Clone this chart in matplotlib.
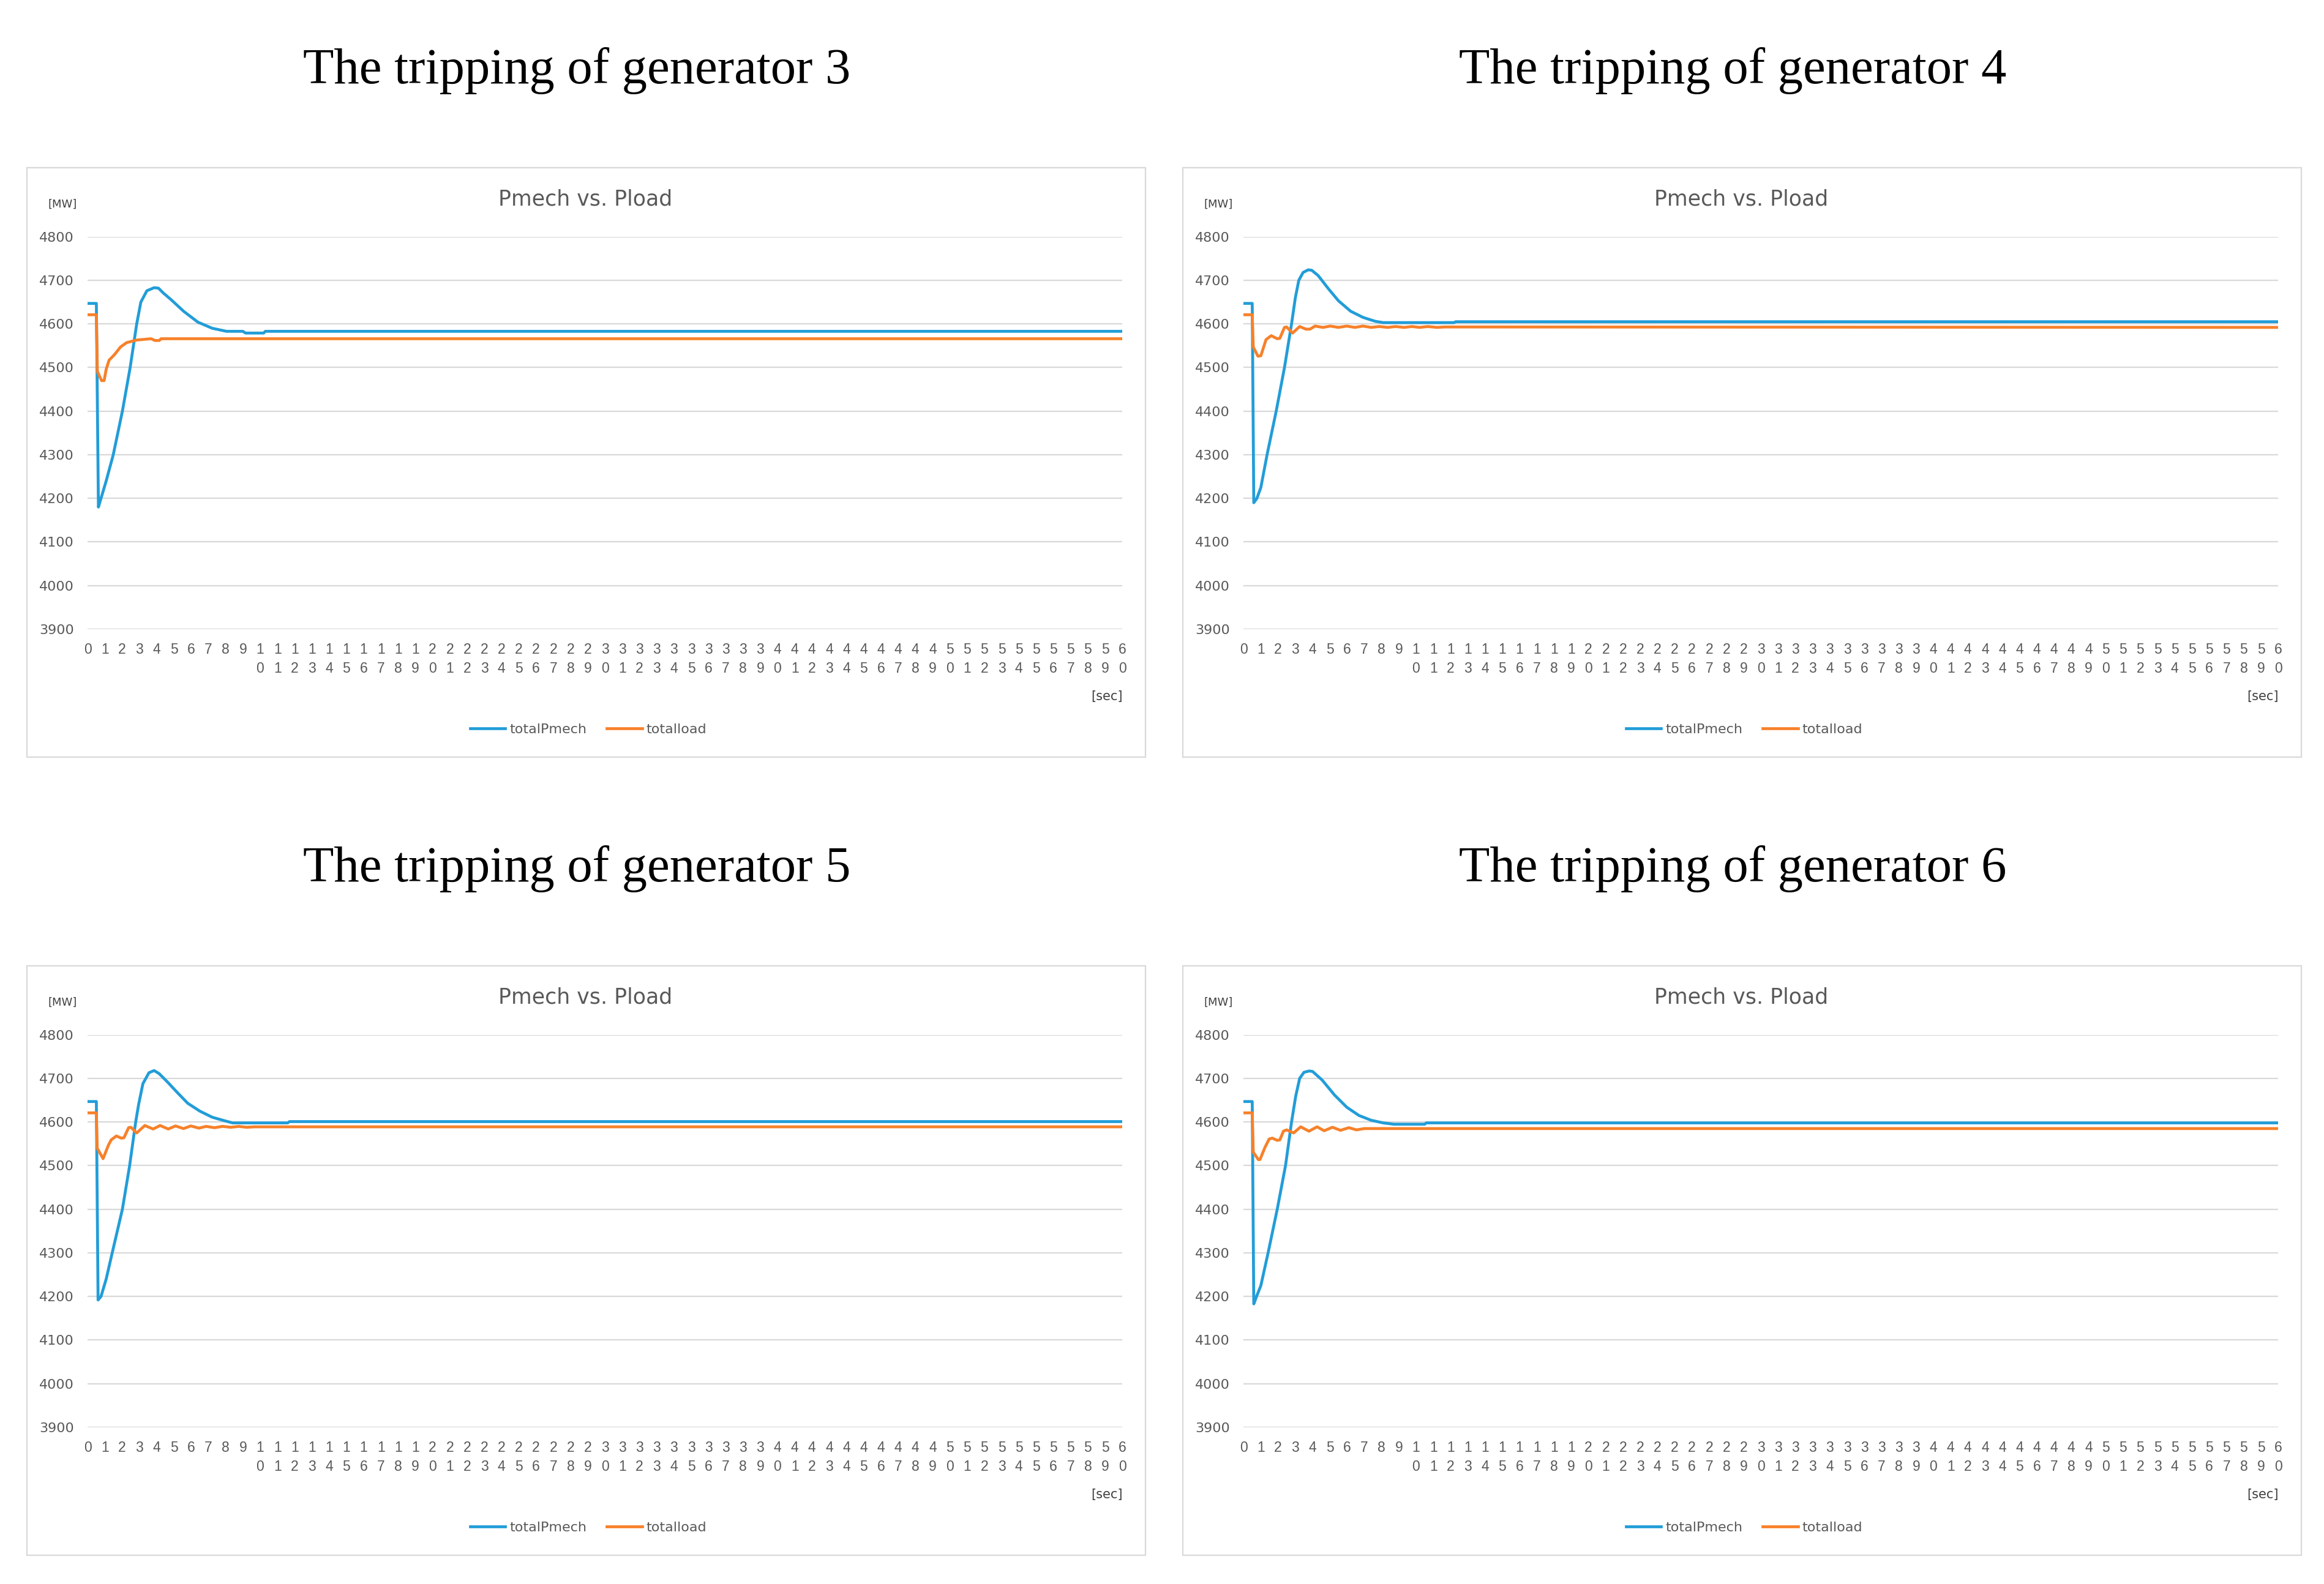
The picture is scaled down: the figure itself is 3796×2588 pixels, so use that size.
import matplotlib
matplotlib.use("Agg")
import matplotlib.pyplot as plt
from matplotlib.patches import Rectangle

W, H = 3796, 2588
BLUE = "#229dd8"; ORANGE = "#f7812a"; GRID = "#d9d9d9"; TXT = "#595959"; DARK = "#404040"

# ── data (t in s, power in MW) ───────────────────────────────────────────────
t_pmech_g3 = [0, 0.5, 0.62, 0.77, 1.07, 1.48, 2.01, 2.46, 2.84, 3.08, 3.43, 3.85, 4.1, 4.38,
              4.85, 5.56, 6.39, 7.22, 8.05, 9.0, 9.15, 10.2, 10.3, 60]
pmech_g3 = [4647, 4647, 4180, 4200, 4240, 4300, 4400, 4500, 4600, 4650, 4676, 4683, 4682, 4671,
            4655, 4629, 4604, 4590, 4583, 4583, 4579, 4579, 4583, 4583]
t_load_g3 = [0, 0.5, 0.56, 0.8, 0.95, 1.07, 1.24, 1.54, 1.9, 2.25, 2.84, 3.4, 3.67, 3.9, 4.15, 4.26, 60]
load_g3 = [4621, 4621, 4491, 4470, 4470, 4496, 4517, 4529, 4547, 4557, 4563, 4565, 4566, 4562,
           4562, 4566, 4566]

t_pmech_g4 = [0, 0.5, 0.59, 0.77, 1.0, 1.36, 1.89, 2.37, 2.78, 3.0, 3.2, 3.45, 3.75, 3.95, 4.32,
              4.91, 5.5, 6.21, 6.92, 7.63, 8.1, 12.2, 12.3, 60]
pmech_g4 = [4647, 4647, 4190, 4200, 4225, 4300, 4400, 4500, 4600, 4660, 4700, 4718, 4724, 4723,
            4711, 4681, 4653, 4629, 4615, 4606, 4603, 4603, 4605, 4605]
t_load_g4 = [0, 0.5, 0.56, 0.83, 1.0, 1.3, 1.6, 1.95, 2.1, 2.37, 2.49, 2.84, 3.25, 3.61, 3.85, 4.14,
             4.6, 5.03, 5.5, 5.98, 6.45, 6.92, 7.4, 7.87, 8.35, 8.82, 9.3, 9.76, 10.2, 10.7, 11.2,
             11.66, 60]
load_g4 = [4621, 4621, 4547, 4526, 4527, 4564, 4573, 4566, 4567, 4592, 4593, 4579, 4594, 4588,
           4588, 4595, 4592, 4595, 4592, 4595, 4592, 4595, 4592, 4594, 4592, 4594, 4592, 4594,
           4592, 4594, 4592, 4593, 4592]

t_pmech_g5 = [0, 0.5, 0.6, 0.77, 1.07, 1.42, 2.01, 2.43, 2.78, 2.95, 3.2, 3.55, 3.85, 4.14, 4.62,
              5.21, 5.8, 6.5, 7.22, 7.93, 8.4, 11.6, 11.7, 60]
pmech_g5 = [4647, 4647, 4192, 4200, 4240, 4300, 4400, 4500, 4600, 4640, 4688, 4713, 4718, 4711,
            4692, 4667, 4643, 4625, 4611, 4603, 4598, 4598, 4601, 4601]
t_load_g5 = [0, 0.5, 0.55, 0.89, 1.2, 1.36, 1.66, 1.95, 2.1, 2.37, 2.5, 2.84, 3.31, 3.79, 4.2,
             4.67, 5.09, 5.55, 5.98, 6.45, 6.86, 7.35, 7.81, 8.3, 8.76, 9.2, 9.7, 60]
load_g5 = [4621, 4621, 4540, 4516, 4547, 4559, 4568, 4563, 4564, 4587, 4588, 4575, 4592, 4584,
           4592, 4584, 4591, 4585, 4591, 4586, 4590, 4587, 4590, 4588, 4590, 4588, 4589, 4589]

t_pmech_g6 = [0, 0.5, 0.59, 0.75, 1.0, 1.42, 1.95, 2.43, 2.78, 3.02, 3.25, 3.5, 3.8, 4.0, 4.56,
              5.27, 5.98, 6.69, 7.4, 8.1, 8.7, 10.5, 10.6, 60]
pmech_g6 = [4647, 4647, 4183, 4200, 4225, 4300, 4400, 4500, 4600, 4659, 4700, 4714, 4717, 4716,
            4696, 4662, 4634, 4615, 4604, 4598, 4595, 4595, 4598, 4598]
t_load_g6 = [0, 0.5, 0.56, 0.85, 0.95, 1.24, 1.48, 1.66, 1.95, 2.1, 2.31, 2.49, 2.9, 3.31, 3.79,
             4.26, 4.67, 5.15, 5.62, 6.1, 6.55, 7.0, 7.5, 60]
load_g6 = [4621, 4621, 4531, 4514, 4514, 4542, 4561, 4563, 4558, 4559, 4579, 4582, 4575, 4589,
           4579, 4589, 4580, 4588, 4581, 4587, 4582, 4585, 4585, 4585]

titles = ["The tripping of generator 3", "The tripping of generator 4",
          "The tripping of generator 5", "The tripping of generator 6"]
y_ticks = list(range(3900, 4801, 100))
x_ticks = list(range(0, 61))
x_labels = [str(i) if i < 10 else "\n".join(str(i)) for i in x_ticks]

series = [(t_pmech_g3, pmech_g3, t_load_g3, load_g3),
          (t_pmech_g4, pmech_g4, t_load_g4, load_g4),
          (t_pmech_g5, pmech_g5, t_load_g5, load_g5),
          (t_pmech_g6, pmech_g6, t_load_g6, load_g6)]

# panel layout in pixels: box corner, plot area offset and size
boxes = [(44, 274), (1932, 274), (44, 1578), (1932, 1578)]
BOX_W, BOX_H = 1827, 963
PLOT_DX, PLOT_DY, PLOT_W, PLOT_H = 99.3, 112.7, 1690, 641.3

fig = plt.figure(figsize=(W/100, H/100), dpi=100)
fig.patch.set_facecolor("white")

def fx(x): return x / W
def fy(y): return 1 - y / H

for (bx, by), title, (tp, vp, tl, vl) in zip(boxes, titles, series):
    fig.patches.append(Rectangle((fx(bx), fy(by + BOX_H)), BOX_W / W, BOX_H / H,
                                 transform=fig.transFigure, fill=False, edgecolor=GRID, lw=1.6))
    # figure title above the chart box
    fig.text(fx(bx + 898), fy(by - 158), title, ha="center", va="center",
             fontsize=59.5, family="Liberation Serif", color="black")
    fig.text(fx(bx + 912), fy(by + 52), "Pmech vs. Pload", ha="center", va="center",
             fontsize=25, color=TXT)
    fig.text(fx(bx + 58), fy(by + 60), "[MW]", ha="center", va="center",
             fontsize=13, color=DARK)

    px0 = bx + PLOT_DX; py0 = by + PLOT_DY
    ax = fig.add_axes([fx(px0), fy(py0 + PLOT_H), PLOT_W / W, PLOT_H / H])
    ax.plot(tp, vp, color=BLUE, lw=3.4, label="totalPmech", zorder=3, solid_joinstyle="round")
    ax.plot(tl, vl, color=ORANGE, lw=3.4, label="totalload", zorder=3, solid_joinstyle="round")
    ax.set_xlim(0, 60); ax.set_ylim(3900, 4800)
    ax.set_yticks(y_ticks)
    ax.set_yticklabels([str(v) for v in y_ticks], fontsize=16, color=TXT)
    ax.set_xticks(x_ticks)
    ax.set_xticklabels(x_labels, fontsize=16.5, color=TXT, family="Liberation Sans", linespacing=1.45)
    ax.tick_params(length=0)
    ax.tick_params(axis="y", pad=16)
    ax.tick_params(axis="x", pad=16)
    ax.grid(axis="y", color=GRID, lw=1.6)
    ax.set_axisbelow(True)
    for s in ax.spines.values(): s.set_visible(False)
    ax.text(1.0, -0.172, "[sec]", transform=ax.transAxes, ha="right", va="center",
            fontsize=15, color=DARK)
    ax.legend(loc="center", bbox_to_anchor=(fx(bx + 917), fy(py0 + PLOT_H + 164)),
              bbox_transform=fig.transFigure, ncol=2, frameon=False, fontsize=16,
              handlelength=2.6, handletextpad=0.3, columnspacing=1.5, labelcolor=TXT)

fig.savefig("out.png", dpi=100, facecolor="white")
